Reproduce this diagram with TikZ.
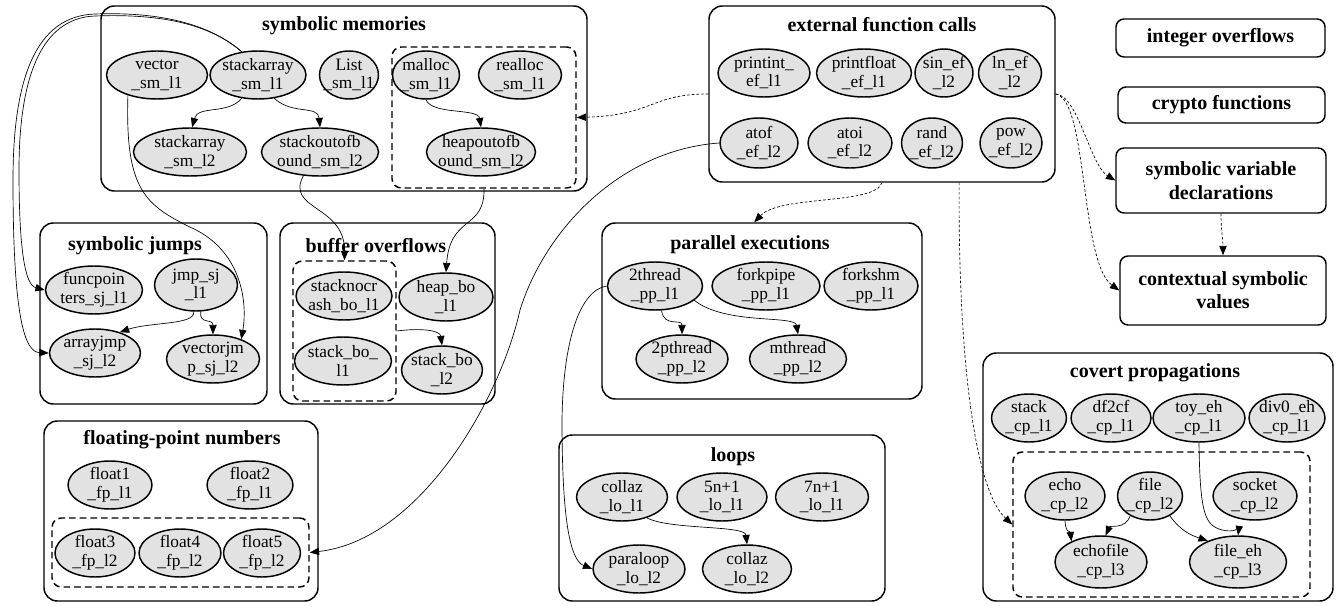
\documentclass[tikz,border=0pt]{standalone}
\usepackage{fontspec}
\setmainfont{Liberation Serif}
\usetikzlibrary{arrows.meta,shapes.geometric,fit}
\definecolor{ellfill}{RGB}{226,226,226}
\begin{document}
\begin{tikzpicture}[x=0.75pt,y=-0.75pt,
  ell/.style={ellipse, draw, line width=1.1pt, fill=ellfill, inner xsep=-30pt, inner ysep=-20pt, minimum height=48*0.75pt, align=center, font=\fontsize{13}{14}\selectfont},
  wd/.style={minimum width=#1*0.75pt},
  ht/.style={minimum height=#1*0.75pt},
  clus/.style={draw, line width=1.1pt, rounded corners=10pt, inner sep=0pt},
  dclus/.style={draw, line width=1.1pt, dash pattern=on 5pt off 3pt, rounded corners=7pt, inner sep=0pt},
  ttl/.style={font=\fontsize{15}{16}\selectfont\bfseries},
  rbox/.style={draw, line width=1.1pt, rounded corners=6pt, inner sep=1pt, align=center, font=\fontsize{15}{17.5}\selectfont\bfseries},
  edge/.style={line width=0.5pt, -{Triangle[length=7pt,width=5.5pt]}},
  dedge/.style={edge, dash pattern=on 2pt off 1.5pt},
]
\useasboundingbox (0,0) rectangle (1339,606);

% symbolic memories
\node[clus, fit={(101,6) (587,191)}] (smC) {};
\node[ttl] (smT) at (344,26) {symbolic memories};
\node[dclus, fit={(392,47) (576,188)}] (smD) {};
\node[ell, wd=101] (vec1) at (157,75) {vector\\\_sm\_l1};
\node[ell, wd=96] (sa1) at (258,75) {stackarray\\\_sm\_l1};
\node[ell, wd=59] (list1) at (349,75) {List\\\_sm\_l1};
\node[ell, wd=67] (mal1) at (426,75) {malloc\\\_sm\_l1};
\node[ell, wd=83] (real1) at (520,75) {realloc\\\_sm\_l1};
\node[ell, wd=113] (sa2) at (190,152) {stackarray\\\_sm\_l2};
\node[ell, wd=117] (sob2) at (320,152) {stackoutofb\\ound\_sm\_l2};
\node[ell, wd=109] (hob2) at (481,152) {heapoutofb\\ound\_sm\_l2};

% external function calls
\node[clus, fit={(709,6) (1055,182)}] (efC) {};
\node[ttl] (efT) at (882,25) {external function calls};
\node[ell, wd=92] (pi) at (764,73) {printint\_\\ef\_l1};
\node[ell, wd=95] (pf) at (864,73) {printfloat\\\_ef\_l1};
\node[ell, wd=58] (sin) at (944,73) {sin\_ef\\\_l2};
\node[ell, wd=63] (ln) at (1010,73) {ln\_ef\\\_l2};
\node[ell, wd=78, ht=50] (atof) at (759,143) {atof\\\_ef\_l2};
\node[ell, wd=84, ht=50] (atoi) at (850,143) {atoi\\\_ef\_l2};
\node[ell, wd=61, ht=50] (rand) at (932,143) {rand\\\_ef\_l2};
\node[ell, wd=62, ht=50] (pow) at (1011,143) {pow\\\_ef\_l2};

% right boxes
\node[rbox, wd=209, ht=38] (io) at (1220.5,38) {integer overflows};
\node[rbox, wd=207, ht=36] (cf) at (1221.5,105) {crypto functions};
\node[rbox, wd=210, ht=65] (svd) at (1221,180.5) {symbolic variable\\declarations};
\node[rbox, wd=206, ht=69] (csv) at (1223,290.5) {contextual symbolic\\values};

% symbolic jumps
\node[clus, fit={(40,223) (267,404)}] (sjC) {};
\node[ttl] (sjT) at (135,246) {symbolic jumps};
\node[ell, wd=97] (fpt) at (94,290) {funcpoin\\ters\_sj\_l1};
\node[ell, wd=83, ht=52] (jmp) at (196,285) {jmp\_sj\\\_l1};
\node[ell, wd=91] (aj) at (95,353) {arrayjmp\\\_sj\_l2};
\node[ell, wd=93] (vj) at (213,359) {vectorjm\\p\_sj\_l2};

% buffer overflows
\node[clus, fit={(280,223) (495,404)}] (boC) {};
\node[ttl] (boT) at (376,246) {buffer overflows};
\node[dclus, fit={(293,261) (396,401)}] (boD) {};
\node[ell, wd=96] (snc) at (344,296) {stacknocr\\ash\_bo\_l1};
\node[ell, wd=94] (hb) at (446,297) {heap\_bo\\\_l1};
\node[ell, wd=97] (sb1) at (343,361) {stack\_bo\_\\l1};
\node[ell, wd=81] (sb2) at (442,370) {stack\_bo\\\_l2};

% parallel executions
\node[clus, fit={(602,223) (922,399)}] (peC) {};
\node[ttl] (peT) at (750,245) {parallel executions};
\node[ell, wd=95] (t2) at (655,286) {2thread\\\_pp\_l1};
\node[ell, wd=108] (fpp) at (766,286) {forkpipe\\\_pp\_l1};
\node[ell, wd=94] (fsh) at (871,286) {forkshm\\\_pp\_l1};
\node[ell, wd=92] (pt2) at (682,359) {2pthread\\\_pp\_l2};
\node[ell, wd=97] (mt2) at (798,359) {mthread\\\_pp\_l2};

% floating-point numbers
\node[clus, fit={(44,421) (318,601)}] (fpC) {};
\node[ttl] (fpT) at (182,440) {floating-point numbers};
\node[dclus, fit={(52,518) (309,587)}] (fpD) {};
\node[ell, wd=84] (f1) at (110,485) {float1\\\_fp\_l1};
\node[ell, wd=86] (f2) at (250,485) {float2\\\_fp\_l1};
\node[ell, wd=80] (f3) at (95,553) {float3\\\_fp\_l2};
\node[ell, wd=82] (f4) at (180,553) {float4\\\_fp\_l2};
\node[ell, wd=77] (f5) at (262,553) {float5\\\_fp\_l2};

% loops
\node[clus, fit={(559,435) (885,601)}] (loC) {};
\node[ttl] (loT) at (733,457) {loops};
\node[ell, wd=91] (c1) at (622,497) {collaz\\\_lo\_l1};
\node[ell, wd=90] (n5) at (722,497) {5n+1\\\_lo\_l1};
\node[ell, wd=93] (n7) at (822,497) {7n+1\\\_lo\_l1};
\node[ell, wd=92] (pl) at (639,569) {paraloop\\\_lo\_l2};
\node[ell, wd=89] (c2) at (747,569) {collaz\\\_lo\_l2};

% covert propagations
\node[clus, fit={(983,353) (1333,601)}] (cpC) {};
\node[ttl] (cpT) at (1155,373) {covert propagations};
\node[dclus, fit={(1013,452) (1310,597)}] (cpD) {};
\node[ell, wd=75] (st) at (1029,418) {stack\\\_cp\_l1};
\node[ell, wd=80] (df) at (1111,418) {df2cf\\\_cp\_l1};
\node[ell, wd=92] (toy) at (1199,418) {toy\_eh\\\_cp\_l1};
\node[ell, wd=76] (div) at (1287,418) {div0\_eh\\\_cp\_l1};
\node[ell, wd=80] (echo) at (1065,496) {echo\\\_cp\_l2};
\node[ell, wd=65] (file) at (1150,496) {file\\\_cp\_l2};
\node[ell, wd=84] (sock) at (1255,496) {socket\\\_cp\_l2};
\node[ell, wd=92, ht=52] (ef) at (1101,562) {echofile\\\_cp\_l3};
\node[ell, wd=97, ht=52] (feh) at (1238,562) {file\_eh\\\_cp\_l3};

% solid edges
\draw[edge] (sa1.235) .. controls (228,115) and (198,105) .. (sa2.85);
\draw[edge] (sa1.305) .. controls (292,115) and (318,105) .. (sob2.north);
\draw[edge] (mal1.south) .. controls (432,115) and (478,108) .. (hob2.north);
\draw[edge] (sa1.125) .. controls (205,20) and (150,14) .. (95,16) .. controls (40,18) and (19,80) .. (19,170) .. controls (19,250) and (25,285) .. (fpt.west);
\draw[edge] (sa1.125) .. controls (205,20) and (150,12) .. (95,14) .. controls (35,16) and (13,80) .. (13,180) .. controls (13,320) and (25,352) .. (aj.west);
\draw[edge] (vec1.215) .. controls (125,190) and (145,205) .. (192,228) .. controls (240,250) and (248,300) .. (vj.35);
\draw[edge] (jmp.265) .. controls (196,325) and (150,322) .. (aj.40);
\draw[edge] (jmp.280) .. controls (199,325) and (213,318) .. (vj.north);
\draw[edge] (sob2.235) .. controls (285,210) and (345,205) .. (boD.north);
\draw[edge] (smD.south) .. controls (485,230) and (450,215) .. (hb.north);
\draw[edge] (boD.east) .. controls (420,328) and (440,330) .. (sb2.north);
\draw[edge] (t2.285) .. controls (664,328) and (682,318) .. (pt2.north);
\draw[edge] (t2.340) .. controls (725,325) and (795,315) .. (mt2.north);
\draw[edge] (c1.320) .. controls (670,530) and (745,525) .. (c2.north);
\draw[edge] (t2.west) .. controls (580,290) and (563,340) .. (562,420) .. controls (562,520) and (570,560) .. (pl.west);
\draw[edge] (atof.west) .. controls (620,150) and (545,230) .. (520,310) .. controls (500,400) and (420,540) .. (fpD.east);
\draw[edge] (toy.south) .. controls (1200,515) and (1205,525) .. (1222,530) .. controls (1235,533) and (1239,528) .. (feh.north);
\draw[edge] (echo.south) .. controls (1066,535) and (1070,530) .. (ef.145);
\draw[edge] (file.225) .. controls (1125,530) and (1110,525) .. (ef.80);
\draw[edge] (file.315) .. controls (1180,530) and (1190,535) .. (feh.145);

% dashed edges
\draw[dedge] (efC.west) .. controls (650,94) and (655,115) .. (smD.east);
\draw[dedge] (efC.south) .. controls (875,205) and (780,195) .. (peC.95);
\draw[dedge] (efC.311) .. controls (958,360) and (975,490) .. (cpD.west);
\draw[dedge] (efC.east) .. controls (1078,95) and (1090,165) .. (svd.west);
\draw[dedge] (efC.east) .. controls (1088,100) and (1080,262) .. (csv.west);
\draw[dedge] (svd.south) .. controls (1221,232) and (1223,238) .. (csv.north);
\end{tikzpicture}
\end{document}
